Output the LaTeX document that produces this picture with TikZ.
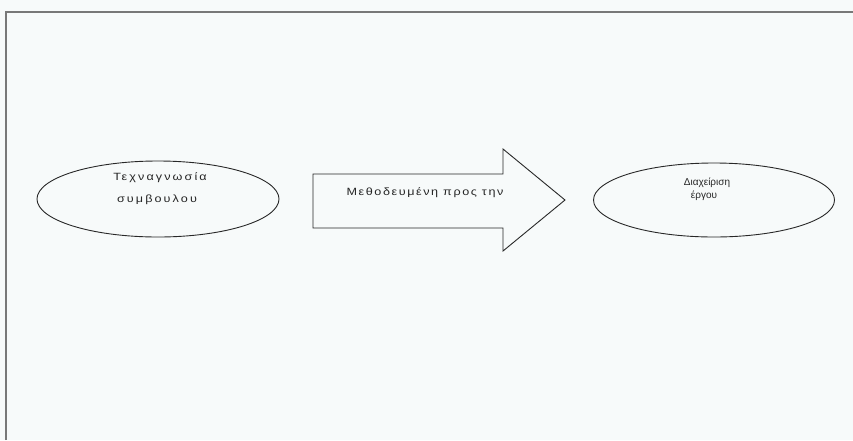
\documentclass[tikz,border=0pt]{standalone}
\usepackage{fontspec}
\setmainfont{Liberation Sans}
\usetikzlibrary{shapes.geometric}
\definecolor{paper}{RGB}{247,250,250}
\definecolor{inkline}{RGB}{40,40,40}
\definecolor{framegray}{RGB}{120,120,120}
\tikzset{
  oval/.style={ellipse, draw=inkline, line width=0.9pt, inner sep=0pt},
  widetext/.style={font=\fontsize{10.5}{12}\selectfont\addfontfeature{FakeStretch=1.2,LetterSpace=20}, inner sep=0pt, text=black!85},
  arrowtext/.style={font=\fontsize{10.5}{12}\selectfont\addfontfeature{FakeStretch=1.2,LetterSpace=15}, inner sep=0pt, text=black!85},
  plaintext/.style={font=\fontsize{10}{12}\selectfont, inner sep=0pt, text=black!85},
  shaft/.style={draw=inkline, line width=0.9pt, line join=miter}
}
\begin{document}
\begin{tikzpicture}[x=1pt,y=-1pt]
  % page and frame
  \fill[paper] (0,0) rectangle (853,440);
  \useasboundingbox (0,0) rectangle (853,440);
  \draw[framegray, line width=1.2pt] (6,440) -- (6,12) -- (853,12);

  % left ellipse
  \node[oval, minimum width=242pt, minimum height=76pt] (know) at (158,199) {};
  \node[widetext] (knowA) at (160,178) {Τεχναγνωσία};
  \node[widetext] (knowB) at (157,200) {συμβουλου};

  % block arrow
  \draw[shaft] (313,174) -- (503,174) -- (503,149) -- (565,200)
               -- (503,251) -- (503,228) -- (313,228) -- cycle;
  \node[arrowtext] (method) at (425,193) {Μεθοδευμένη προς την};

  % right ellipse
  \node[oval, minimum width=241pt, minimum height=74pt] (manage) at (714,200) {};
  \node[plaintext] (manageA) at (707,183) {Διαχείριση};
  \node[plaintext] (manageB) at (704,196) {έργου};
\end{tikzpicture}
\end{document}
